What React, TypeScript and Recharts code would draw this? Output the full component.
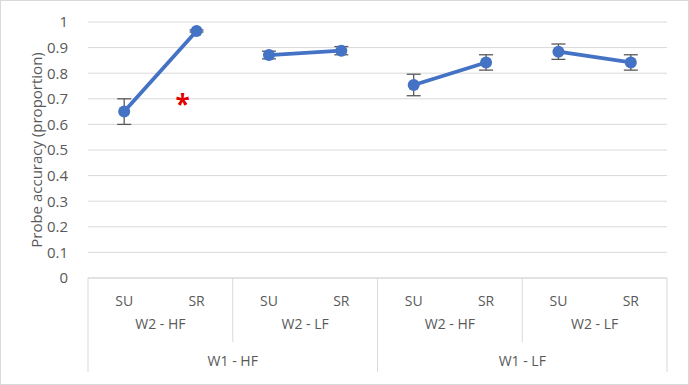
import React from "react";
import {
  LineChart,
  Line,
  XAxis,
  YAxis,
  CartesianGrid,
  ErrorBar,
  ReferenceDot,
} from "recharts";

// probe accuracy per condition, grouped SU/SR within W2 within W1
const conditions = ["SU", "SR", "SU", "SR", "SU", "SR", "SU", "SR"];
const w2Groups = ["W2 - HF", "W2 - LF", "W2 - HF", "W2 - LF"];
const w1Groups = ["W1 - HF", "W1 - LF"];
const accuracy = [0.65, 0.965, 0.871, 0.888, 0.754, 0.842, 0.884, 0.842];
const errors = [0.05, 0.004, 0.015, 0.016, 0.042, 0.03, 0.03, 0.03];
const yTicks = [0, 0.1, 0.2, 0.3, 0.4, 0.5, 0.6, 0.7, 0.8, 0.9, 1];

const W = 689;
const H = 385;
const M = { top: 22, right: 22, left: 0, bottom: 7 };
const Y_AXIS_W = 88;
const X_AXIS_H = 100;
const PLOT_W = W - M.left - M.right - Y_AXIS_W;
const BAND = PLOT_W / conditions.length;

const BLUE = "#4472C4";
const GREY = "#595959";
const LINE_GREY = "#d9d9d9";
const FONT = "Open Sans, sans-serif";

// one segment per SU/SR pair so the lines break between groups
const data = conditions.map((c, i) => {
  const row: Record<string, string | number | null> = { name: c, idx: i };
  for (let s = 0; s < w2Groups.length; s++) {
    const inSeg = Math.floor(i / 2) === s;
    row[`seg${s}`] = inSeg ? accuracy[i] : null;
    row[`err${s}`] = inSeg ? errors[i] : null;
  }
  return row;
});

const GroupTick = (props: any) => {
  const { x, y, index } = props;
  const label = conditions[index];
  const items: React.ReactNode[] = [
    <text key="c" x={x} y={y + 20} textAnchor="middle" fill={GREY} fontSize={14} fontFamily={FONT}>
      {label}
    </text>,
  ];
  const left = x - BAND / 2;
  if (index % 2 === 0) {
    // left edge of a W2 group
    const deep = index % 4 === 0;
    items.push(
      <line key="l" x1={left} x2={left} y1={y - 8} y2={y + (deep ? 86 : 56)} stroke={LINE_GREY} />
    );
    items.push(
      <text key="w2" x={x + BAND / 2} y={y + 43} textAnchor="middle" fill={GREY} fontSize={14} fontFamily={FONT}>
        {w2Groups[index / 2]}
      </text>
    );
  }
  if (index % 4 === 0) {
    items.push(
      <text key="w1" x={x + BAND * 1.5} y={y + 80} textAnchor="middle" fill={GREY} fontSize={14} fontFamily={FONT}>
        {w1Groups[index / 4]}
      </text>
    );
  }
  if (index === conditions.length - 1) {
    const right = x + BAND / 2;
    items.push(
      <line key="r" x1={right} x2={right} y1={y - 8} y2={y + 86} stroke={LINE_GREY} />
    );
  }
  return <g>{items}</g>;
};

export default function App() {
  return (
    <div
      style={{
        position: "absolute",
        left: 0,
        top: 0,
        width: W - 2,
        height: H - 2,
        border: `1px solid ${LINE_GREY}`,
        background: "#fff",
      }}
    >
      <div style={{ position: "absolute", left: -1, top: -1 }}>
        <LineChart width={W} height={H} data={data} margin={M}>
          <CartesianGrid vertical={false} stroke={LINE_GREY} strokeWidth={1} />
          <XAxis
            dataKey="idx"
            type="category"
            scale="band"
            height={X_AXIS_H}
            tickLine={false}
            axisLine={{ stroke: LINE_GREY }}
            interval={0}
            tick={<GroupTick />}
          />
          <YAxis
            domain={[0, 1]}
            ticks={yTicks}
            width={Y_AXIS_W}
            axisLine={false}
            tickLine={false}
            tickMargin={14}
            tick={{ fill: GREY, fontSize: 15, fontFamily: FONT }}
            label={{
              value: "Probe accuracy (proportion)",
              angle: -90,
              position: "insideLeft",
              dx: 32,
              dy: 0,
              style: { textAnchor: "middle", fill: GREY, fontSize: 15, fontFamily: FONT },
            }}
          />
          {w2Groups.map((_, s) => (
            <Line
              key={s}
              dataKey={`seg${s}`}
              stroke={BLUE}
              strokeWidth={3.8}
              dot={{ r: 6, fill: BLUE, stroke: BLUE, strokeWidth: 0 }}
              activeDot={false}
              connectNulls={false}
              isAnimationActive={false}
            >
              <ErrorBar dataKey={`err${s}`} width={7} stroke={GREY} strokeWidth={1.3} direction="y" />
            </Line>
          ))}
          <ReferenceDot
            x={1}
            y={0.7}
            r={0}
            fill="none"
            stroke="none"
            label={{
              value: "*",
              position: "center",
              dx: -14,
              dy: 6,
              style: { fill: "#E00000", fontSize: 26, fontWeight: 700, fontFamily: FONT },
            }}
          />
        </LineChart>
      </div>
    </div>
  );
}
